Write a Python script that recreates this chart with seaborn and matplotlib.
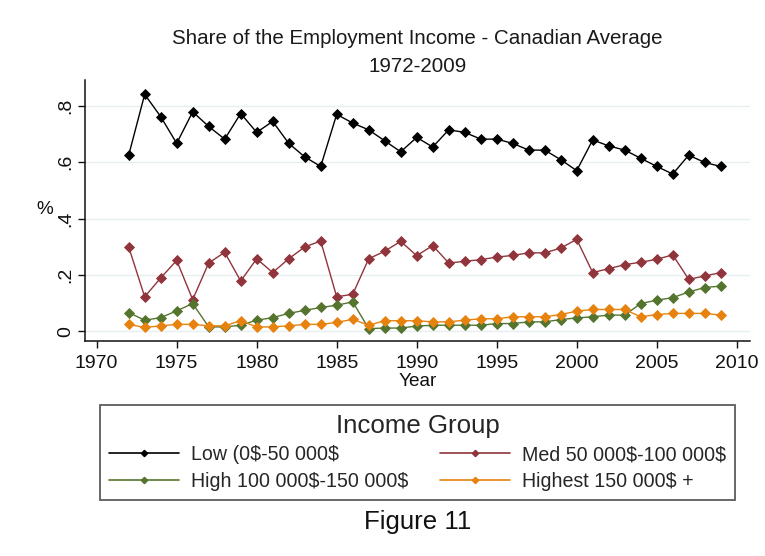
import matplotlib
matplotlib.use("Agg")
import matplotlib.pyplot as plt
from matplotlib.lines import Line2D
import seaborn as sns
import pandas as pd

# Survey years
years = [1972, 1973, 1974, 1975, 1976, 1977, 1978, 1979, 1980, 1981,
         1982, 1983, 1984, 1985, 1986, 1987, 1988, 1989, 1990, 1991,
         1992, 1993, 1994, 1995, 1996, 1997, 1998, 1999, 2000, 2001,
         2002, 2003, 2004, 2005, 2006, 2007, 2008, 2009]

# Share of employment income by income group
low = [0.625, 0.841, 0.762, 0.667, 0.779, 0.727, 0.682, 0.773, 0.706, 0.745,
       0.667, 0.619, 0.585, 0.770, 0.739, 0.715, 0.676, 0.637, 0.688, 0.654,
       0.715, 0.706, 0.682, 0.682, 0.667, 0.643, 0.643, 0.609, 0.570, 0.679,
       0.658, 0.643, 0.614, 0.585, 0.558, 0.625, 0.599, 0.585]
med = [0.299, 0.122, 0.189, 0.251, 0.112, 0.242, 0.280, 0.178, 0.257, 0.208,
       0.257, 0.299, 0.320, 0.122, 0.131, 0.257, 0.284, 0.319, 0.268, 0.304,
       0.242, 0.248, 0.254, 0.263, 0.269, 0.278, 0.278, 0.295, 0.326, 0.208,
       0.222, 0.236, 0.245, 0.255, 0.271, 0.184, 0.196, 0.208]
high = [0.066, 0.039, 0.048, 0.072, 0.098, 0.015, 0.015, 0.021, 0.039, 0.048,
        0.063, 0.074, 0.084, 0.092, 0.104, 0.009, 0.011, 0.011, 0.018, 0.021,
        0.021, 0.021, 0.021, 0.027, 0.027, 0.033, 0.033, 0.041, 0.047, 0.051,
        0.057, 0.057, 0.098, 0.110, 0.119, 0.139, 0.155, 0.160]
highest = [0.024, 0.013, 0.019, 0.024, 0.024, 0.019, 0.019, 0.037, 0.015, 0.015,
           0.019, 0.024, 0.024, 0.031, 0.042, 0.021, 0.037, 0.037, 0.037, 0.033,
           0.033, 0.039, 0.044, 0.044, 0.051, 0.051, 0.051, 0.059, 0.071, 0.077,
           0.077, 0.077, 0.051, 0.059, 0.063, 0.063, 0.063, 0.057]

groups = ["Low (0$-50 000$", "Med 50 000$-100 000$",
          "High 100 000$-150 000$", "Highest 150 000$ +"]
colors = ["#000000", "#90353B", "#55752F", "#E8820E"]

x_ticks = [1970, 1975, 1980, 1985, 1990, 1995, 2000, 2005, 2010]
y_ticks = [0, 0.2, 0.4, 0.6, 0.8]
y_tick_labels = ["0", ".2", ".4", ".6", ".8"]

df = pd.concat(
    [pd.DataFrame({"Year": years, "Share": vals, "Group": g})
     for g, vals in zip(groups, [low, med, high, highest])],
    ignore_index=True,
)

sns.set_style("white")
plt.rcParams["font.family"] = ["Liberation Sans", "DejaVu Sans"]

W, H = 765, 556
fig = plt.figure(figsize=(W / 100, H / 100), dpi=100)
ax = fig.add_axes([85 / W, 1 - 341 / H, 665 / W, 261 / H])

sns.lineplot(data=df, x="Year", y="Share", hue="Group", hue_order=groups,
             palette=colors, marker="D", markersize=4.7, linewidth=1.0,
             legend=False, ax=ax)
for line in ax.lines:
    line.set_markeredgecolor(line.get_color())
    line.set_markeredgewidth(0.6)

ax.set_xlim(1969.27, 2010.83)
ax.set_ylim(-0.035, 0.892)
ax.set_xticks(x_ticks)
ax.set_yticks(y_ticks)
ax.set_yticklabels(y_tick_labels, rotation=90, va="center")
ax.tick_params(axis="x", length=5, width=1, color="#111111", pad=5,
               labelsize=14, labelcolor="#111111", bottom=True)
ax.tick_params(axis="y", length=5, width=1, color="#111111", pad=3,
               labelsize=14, labelcolor="#111111", left=True)

ax.grid(axis="y", color="#E6EEF0", linewidth=1.0)
ax.set_axisbelow(True)
for side in ["top", "right"]:
    ax.spines[side].set_visible(False)
for side in ["left", "bottom"]:
    ax.spines[side].set_color("#111111")
    ax.spines[side].set_linewidth(1.1)

ax.set_xlabel("Year", fontsize=13.7, color="#111111")
ax.xaxis.set_label_coords(0.5, (341 - 382) / 261)
ax.xaxis.label.set_va("center")
ax.set_ylabel("%", fontsize=13.7, color="#111111", rotation=0)
ax.yaxis.set_label_coords((45 - 85) / 665, (341 - 210) / 261)
ax.yaxis.label.set_va("center")
ax.yaxis.label.set_ha("center")

fig.text(417.5 / W, 1 - 39 / H, "Share of the Employment Income - Canadian Average",
         ha="center", va="center", fontsize=14.8, color="#1A1A1A")
fig.text(417.5 / W, 1 - 66 / H, "1972-2009",
         ha="center", va="center", fontsize=14.8, color="#1A1A1A")

# Legend labels contain literal dollar signs; escape them so they are not
# parsed as mathtext.  Entries are laid out row by row (Low, Med / High,
# Highest), so they are passed in column-fill order.
legend_labels = [g.replace("$", r"\$") for g in groups]
handles = [Line2D([], [], color=c, marker="D", markersize=3.2,
                  markeredgecolor=c, linewidth=1.2) for c in colors]
order = [0, 2, 1, 3]
leg = fig.legend([handles[i] for i in order], [legend_labels[i] for i in order],
                 ncol=2, loc="upper left",
                 bbox_to_anchor=(100 / W, 1 - 500 / H, 635 / W, 95 / H),
                 mode="expand", title="Income Group", fontsize=14.1,
                 title_fontsize=18.6, frameon=True, fancybox=False,
                 borderpad=0.45, labelspacing=0.38, handlelength=3.6,
                 handletextpad=0.6, columnspacing=1.4, borderaxespad=0,
                 numpoints=1)
frame = leg.get_frame()
frame.set_edgecolor("#333333")
frame.set_linewidth(1.3)

fig.text(417.5 / W, 1 - 522 / H, "Figure 11", ha="center", va="center",
         fontsize=18.6, color="#111111")

fig.savefig("out.png", dpi=100, facecolor="white")
